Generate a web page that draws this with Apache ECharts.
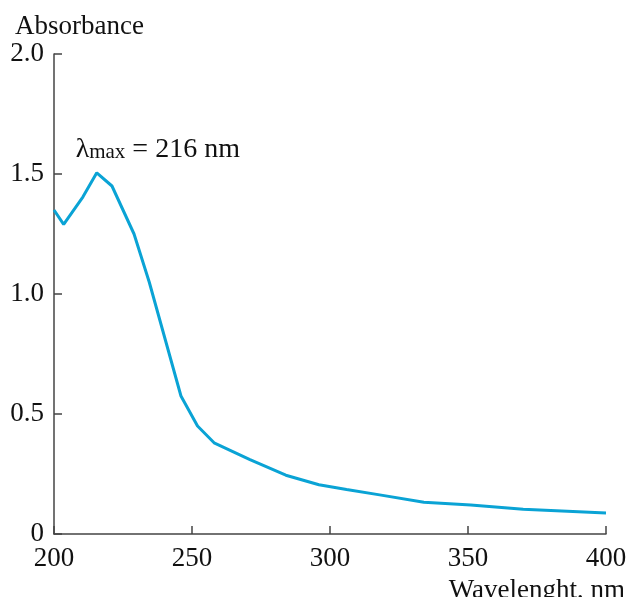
<!DOCTYPE html>
<html>
<head>
<meta charset="utf-8">
<script src="https://cdn.jsdelivr.net/npm/echarts@6/dist/echarts.min.js"></script>
<style>
  html, body { margin: 0; padding: 0; background: #fff; }
  #main { width: 628px; height: 597px; }
</style>
</head>
<body>
<div id="main"></div>
<script>
// wavelength, nm
const wavelength = [200, 203.5, 210.5, 215.5, 221, 229, 234.5, 246, 252, 258, 271, 284, 296, 306, 318, 334, 351, 370, 400];
// absorbance
const absorbance = [1.35, 1.29, 1.405, 1.505, 1.45, 1.25, 1.05, 0.575, 0.45, 0.38, 0.31, 0.245, 0.205, 0.185, 0.163, 0.132, 0.121, 0.103, 0.088];
const yTicks = ['0', '0.5', '1.0', '1.5', '2.0'];

const serif = 'Liberation Serif';
const axisColor = '#444';

let chart = echarts.init(document.getElementById('main'));
let option = {
    animation: false,
    grid: { left: 54, right: 22, top: 54, bottom: 63, containLabel: false, outerBoundsMode: 'none' },
    xAxis: {
        type: 'value',
        min: 200,
        max: 400,
        interval: 50,
        name: 'Wavelenght, nm',
        nameLocation: 'end',
        nameGap: 19,
        nameTextStyle: {
            fontFamily: serif, fontSize: 27, color: '#111',
            align: 'right', verticalAlign: 'top', padding: [43, 0, 0, 0]
        },
        axisLine: { lineStyle: { color: axisColor, width: 1.5 } },
        axisTick: { inside: true, length: 8, lineStyle: { color: axisColor, width: 1.5 } },
        axisLabel: { fontFamily: serif, fontSize: 27, color: '#111', margin: 11 },
        splitLine: { show: false }
    },
    yAxis: {
        type: 'value',
        min: 0,
        max: 2,
        interval: 0.5,
        name: 'Absorbance',
        nameLocation: 'end',
        nameGap: 14,
        nameTextStyle: {
            fontFamily: serif, fontSize: 27, color: '#111',
            align: 'left', padding: [0, 0, 0, -39]
        },
        axisLine: { show: true, lineStyle: { color: axisColor, width: 1.5 } },
        axisTick: { show: true, inside: true, length: 8, lineStyle: { color: axisColor, width: 1.5 } },
        axisLabel: {
            fontFamily: serif, fontSize: 27, color: '#111', margin: 10,
            formatter: (v) => yTicks[Math.round(v / 0.5)]
        },
        splitLine: { show: false }
    },
    series: [{
        type: 'line',
        data: wavelength.map((w, i) => [w, absorbance[i]]),
        symbol: 'none',
        lineStyle: { color: '#0aa3d5', width: 3 },
        markPoint: {
            symbol: 'circle',
            symbolSize: 0,
            data: [{ coord: [215.5, 1.505] }],
            label: {
                show: true,
                position: 'top',
                offset: [61, -2],
                formatter: '{l|λ}{s|max}{l| = 216 nm}',
                rich: {
                    l: { fontFamily: serif, fontSize: 28, color: '#111', lineHeight: 30, verticalAlign: 'top' },
                    s: { fontFamily: serif, fontSize: 21, color: '#111', lineHeight: 30, verticalAlign: 'top', padding: [6, 0, 0, 0] }
                }
            }
        }
    }]
};
option && chart.setOption(option);
</script>
</body>
</html>
